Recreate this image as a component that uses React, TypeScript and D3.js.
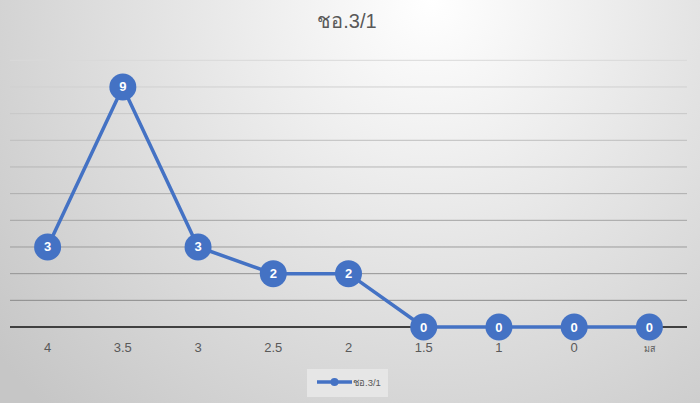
import React from "react";
import * as d3 from "d3";

const categories = ["4", "3.5", "3", "2.5", "2", "1.5", "1", "0", "มส"];
const values = [3, 9, 3, 2, 2, 0, 0, 0, 0];
const yTicks = [0, 1, 2, 3, 4, 5, 6, 7, 8, 9, 10];
const seriesName = "ชอ.3/1";
const title = "ชอ.3/1";

const W = 700;
const H = 403;
const left = 10;
const right = 687;
const top = 60.3;
const bottom = 327;
const color = "#4472c4";
const font = "'Liberation Sans', Arial, sans-serif";
const narrow = "'Liberation Sans Narrow', 'Liberation Sans', Arial, sans-serif";

export default function App() {
  const x = d3.scaleBand<string>().domain(categories).range([left, right]);
  const y = d3.scaleLinear().domain([0, 10]).range([bottom, top]);
  const gridColor = d3.scaleLinear<string>().domain([10, 1]).range(["#d9d9d9", "#8a8a8a"]);
  const cx = (c: string) => (x(c) ?? 0) + x.bandwidth() / 2;
  const line = d3
    .line<number>()
    .x((_, i) => cx(categories[i]))
    .y((d) => y(d));

  return (
    <svg width={W} height={H} style={{ position: "absolute", left: 0, top: 0 }}>
      <defs>
        <radialGradient id="bg" gradientUnits="userSpaceOnUse" cx={430} cy={0} r={560}>
          <stop offset="0" stopColor="#ffffff" />
          <stop offset="1" stopColor="#c6c6c6" />
        </radialGradient>
      </defs>
      <rect x={0} y={0} width={W} height={H} fill="url(#bg)" />
      <text x={347} y={28} textAnchor="middle" fontSize={20} fill="#595959" fontFamily={font}>
        {title}
      </text>
      {yTicks
        .filter((t) => t > 0)
        .map((t) => (
          <line key={t} x1={left} x2={right} y1={y(t)} y2={y(t)} stroke={gridColor(t)} strokeWidth={1} />
        ))}
      <line x1={left} x2={right} y1={y(0)} y2={y(0)} stroke="#404040" strokeWidth={2} />
      {categories.map((c) => (
        <text key={c} x={cx(c)} y={351.5} textAnchor="middle" fontSize={c === "มส" ? 9 : 13} fill="#595959" fontFamily={narrow}>
          {c}
        </text>
      ))}
      <path d={line(values) ?? ""} fill="none" stroke={color} strokeWidth={3.5} strokeLinejoin="round" />
      {values.map((v, i) => (
        <g key={i}>
          <circle cx={cx(categories[i])} cy={y(v)} r={13.5} fill={color} />
          <text
            x={cx(categories[i])}
            y={y(v) + 4.5}
            textAnchor="middle"
            fontSize={13}
            fontWeight="bold"
            fill="#ffffff"
            fontFamily={font}
          >
            {v}
          </text>
        </g>
      ))}
      <rect x={307} y={369} width={81} height={28} fill="#e6e6e6" />
      <line x1={317} x2={352} y1={382} y2={382} stroke={color} strokeWidth={3.5} />
      <circle cx={334.5} cy={382} r={4} fill={color} />
      <text x={353} y={385.5} fontSize={9.5} fill="#595959" fontFamily={narrow}>
        {seriesName}
      </text>
    </svg>
  );
}
